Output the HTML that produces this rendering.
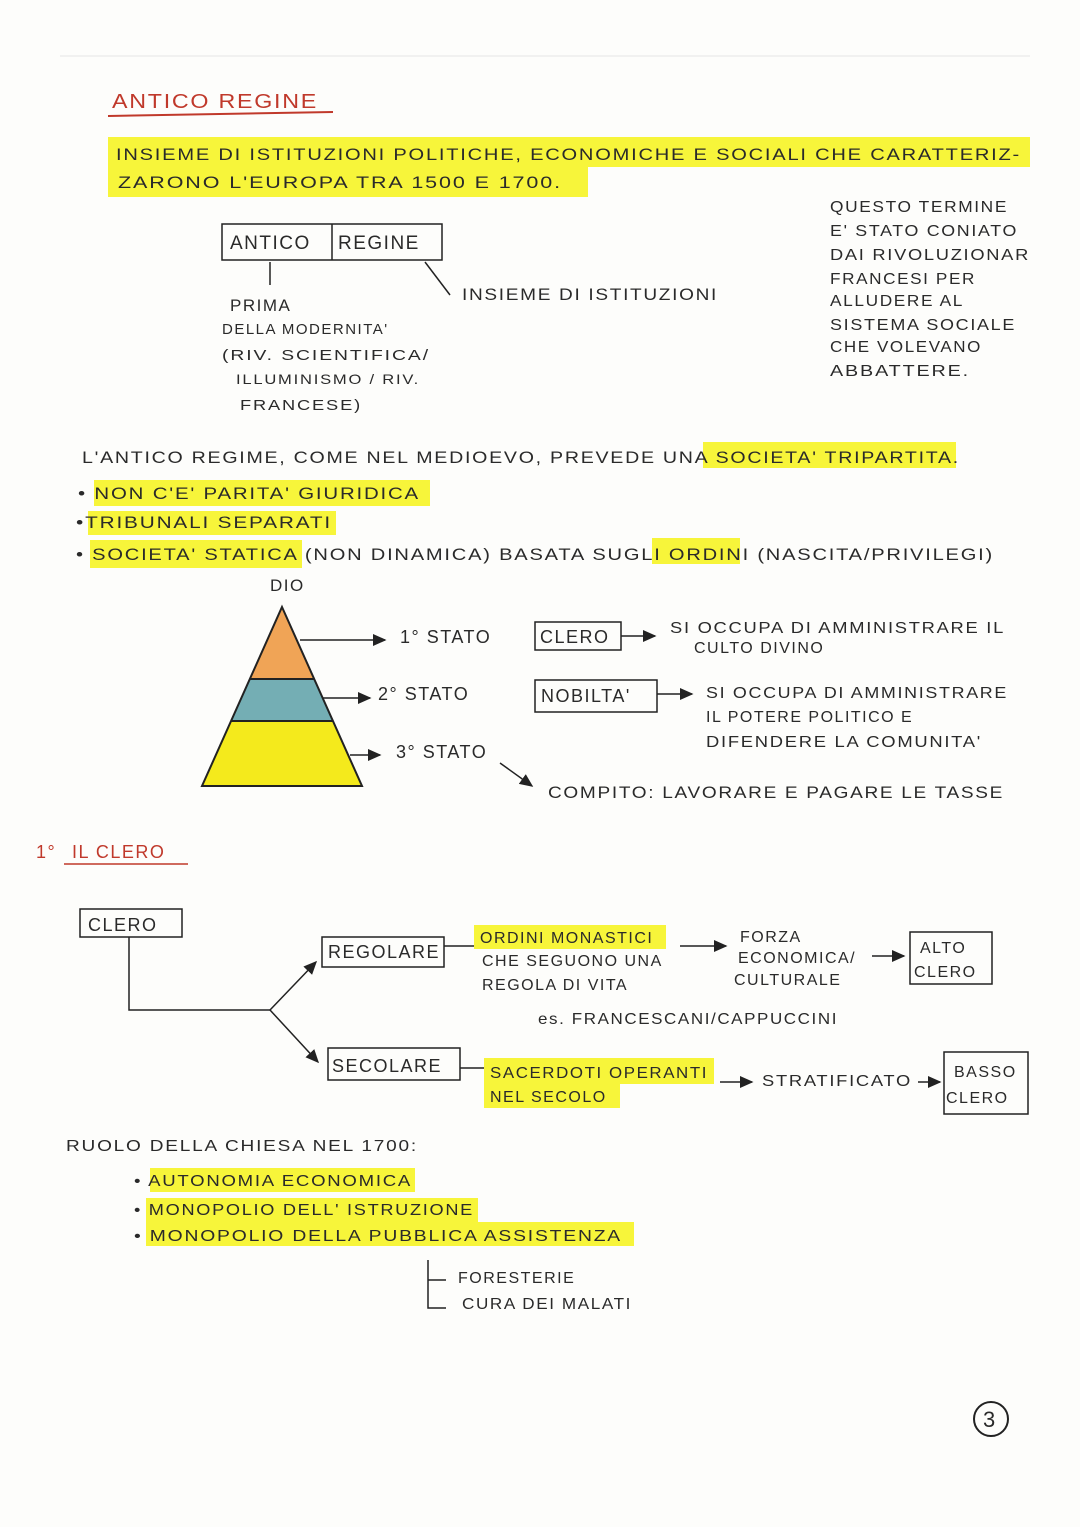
<!DOCTYPE html>
<html><head><meta charset="utf-8"><style>
html,body{margin:0;padding:0;background:#fdfdfb}
svg{display:block}
text{font-family:"Liberation Sans",sans-serif;font-size:17px;fill:#2a2a2a;letter-spacing:1.5px}
.r{fill:#c0392b}
.hl{fill:#f7f53a}
</style></head><body>
<svg width="1080" height="1527" viewBox="0 0 1080 1527" xmlns="http://www.w3.org/2000/svg">
<defs><marker id="a" markerWidth="10" markerHeight="10" refX="8" refY="4" orient="auto"><path d="M0,0 L9,4 L0,8z" fill="#222"/></marker></defs>
<line x1="60" y1="56" x2="1030" y2="56" stroke="#e5e5e5"/>
<text x="112" y="108" class="r" style="font-size:20px" textLength="206" lengthAdjust="spacingAndGlyphs">ANTICO REGINE</text>
<line x1="108" y1="116" x2="333" y2="112" stroke="#c0392b" stroke-width="2"/>
<rect class="hl" x="108" y="137" width="922" height="30"/>
<rect class="hl" x="108" y="167" width="480" height="30"/>
<text x="116" y="160" textLength="905" lengthAdjust="spacingAndGlyphs">INSIEME DI ISTITUZIONI POLITICHE, ECONOMICHE E SOCIALI CHE CARATTERIZ-</text>
<text x="118" y="188" textLength="444" lengthAdjust="spacingAndGlyphs">ZARONO L'EUROPA TRA 1500 E 1700.</text>
<rect x="222" y="224" width="220" height="36" fill="none" stroke="#222" stroke-width="1.5"/>
<line x1="332" y1="224" x2="332" y2="260" stroke="#222" stroke-width="1.5"/>
<text x="230" y="249" style="font-size:19px">ANTICO</text>
<text x="338" y="249" style="font-size:19px">REGINE</text>
<line x1="270" y1="262" x2="270" y2="285" stroke="#222" stroke-width="1.5"/>
<line x1="425" y1="262" x2="450" y2="295" stroke="#222" stroke-width="1.5"/>
<text x="462" y="300" textLength="256" lengthAdjust="spacingAndGlyphs">INSIEME DI ISTITUZIONI</text>
<text x="230" y="311">PRIMA</text>
<text x="222" y="334" style="font-size:15px">DELLA MODERNITA'</text>
<text x="222" y="360" style="font-size:15px" textLength="208" lengthAdjust="spacingAndGlyphs">(RIV. SCIENTIFICA/</text>
<text x="236" y="384" style="font-size:14px" textLength="184" lengthAdjust="spacingAndGlyphs">ILLUMINISMO / RIV.</text>
<text x="240" y="410" style="font-size:15px" textLength="122" lengthAdjust="spacingAndGlyphs">FRANCESE)</text>
<text x="830" y="212" style="font-size:16px" textLength="178" lengthAdjust="spacingAndGlyphs">QUESTO TERMINE</text>
<text x="830" y="236" style="font-size:16px" textLength="188" lengthAdjust="spacingAndGlyphs">E' STATO CONIATO</text>
<text x="830" y="260" style="font-size:16px" textLength="200" lengthAdjust="spacingAndGlyphs">DAI RIVOLUZIONAR</text>
<text x="830" y="284" style="font-size:16px" textLength="146" lengthAdjust="spacingAndGlyphs">FRANCESI PER</text>
<text x="830" y="306" style="font-size:16px" textLength="134" lengthAdjust="spacingAndGlyphs">ALLUDERE AL</text>
<text x="830" y="330" style="font-size:16px" textLength="186" lengthAdjust="spacingAndGlyphs">SISTEMA SOCIALE</text>
<text x="830" y="352" style="font-size:16px" textLength="152" lengthAdjust="spacingAndGlyphs">CHE VOLEVANO</text>
<text x="830" y="376" style="font-size:16px" textLength="140" lengthAdjust="spacingAndGlyphs">ABBATTERE.</text>
<rect class="hl" x="703" y="442" width="253" height="26"/>
<text x="82" y="463" textLength="878" lengthAdjust="spacingAndGlyphs">L'ANTICO REGIME, COME NEL MEDIOEVO, PREVEDE UNA SOCIETA' TRIPARTITA.</text>
<rect class="hl" x="94" y="480" width="336" height="26"/>
<text x="78" y="499" textLength="342" lengthAdjust="spacingAndGlyphs">• NON C'E' PARITA' GIURIDICA</text>
<rect class="hl" x="88" y="511" width="248" height="24"/>
<text x="76" y="528" textLength="256" lengthAdjust="spacingAndGlyphs">•TRIBUNALI SEPARATI</text>
<rect class="hl" x="90" y="540" width="212" height="28"/>
<rect class="hl" x="652" y="538" width="88" height="26"/>
<text x="76" y="560" textLength="918" lengthAdjust="spacingAndGlyphs">• SOCIETA' STATICA (NON DINAMICA) BASATA SUGLI ORDINI (NASCITA/PRIVILEGI)</text>
<text x="270" y="591">DIO</text>
<polygon points="282,607 314,679 250,679" fill="#f0a456"/>
<polygon points="250,679 314,679 333,721 231,721" fill="#74aeb4"/>
<polygon points="231,721 333,721 362,786 202,786" fill="#f4ea1c"/>
<polygon points="282,607 362,786 202,786" fill="none" stroke="#222" stroke-width="2"/>
<line x1="250" y1="679" x2="314" y2="679" stroke="#222" stroke-width="2"/>
<line x1="231" y1="721" x2="333" y2="721" stroke="#222" stroke-width="2"/>
<line x1="300" y1="640" x2="385" y2="640" stroke="#222" stroke-width="1.5" marker-end="url(#a)"/>
<line x1="322" y1="698" x2="370" y2="698" stroke="#222" stroke-width="1.5" marker-end="url(#a)"/>
<line x1="350" y1="755" x2="380" y2="755" stroke="#222" stroke-width="1.5" marker-end="url(#a)"/>
<text x="400" y="643" style="font-size:18px">1° STATO</text>
<text x="378" y="700" style="font-size:18px">2° STATO</text>
<text x="396" y="758" style="font-size:18px">3° STATO</text>
<line x1="500" y1="763" x2="532" y2="786" stroke="#222" stroke-width="1.5" marker-end="url(#a)"/>
<rect x="535" y="622" width="86" height="28" fill="none" stroke="#222" stroke-width="1.5"/>
<text x="540" y="643" style="font-size:18px">CLERO</text>
<line x1="621" y1="636" x2="655" y2="636" stroke="#222" stroke-width="1.5" marker-end="url(#a)"/>
<text x="670" y="633" style="font-size:16px" textLength="335" lengthAdjust="spacingAndGlyphs">SI OCCUPA DI AMMINISTRARE IL</text>
<text x="694" y="653" style="font-size:16px">CULTO DIVINO</text>
<rect x="535" y="680" width="122" height="32" fill="none" stroke="#222" stroke-width="1.5"/>
<text x="541" y="702" style="font-size:18px">NOBILTA'</text>
<line x1="657" y1="694" x2="692" y2="694" stroke="#222" stroke-width="1.5" marker-end="url(#a)"/>
<text x="706" y="698" style="font-size:16px" textLength="302" lengthAdjust="spacingAndGlyphs">SI OCCUPA DI AMMINISTRARE</text>
<text x="706" y="722" style="font-size:16px">IL POTERE POLITICO E</text>
<text x="706" y="747" style="font-size:16px" textLength="276" lengthAdjust="spacingAndGlyphs">DIFENDERE LA COMUNITA'</text>
<text x="548" y="798" style="font-size:17px" textLength="456" lengthAdjust="spacingAndGlyphs">COMPITO: LAVORARE E PAGARE LE TASSE</text>
<text x="36" y="858" class="r" style="font-size:18px">1°</text>
<text x="72" y="858" class="r" style="font-size:18px">IL CLERO</text>
<line x1="64" y1="864" x2="188" y2="864" stroke="#c0392b" stroke-width="1.5"/>
<rect x="80" y="909" width="102" height="28" fill="none" stroke="#222" stroke-width="1.5"/>
<text x="88" y="931" style="font-size:18px">CLERO</text>
<polyline points="129,937 129,1010 270,1010" fill="none" stroke="#222" stroke-width="1.5"/>
<line x1="270" y1="1010" x2="316" y2="962" stroke="#222" stroke-width="1.5" marker-end="url(#a)"/>
<line x1="270" y1="1010" x2="318" y2="1062" stroke="#222" stroke-width="1.5" marker-end="url(#a)"/>
<rect x="322" y="937" width="122" height="30" fill="none" stroke="#222" stroke-width="1.5"/>
<text x="328" y="958" style="font-size:18px">REGOLARE</text>
<line x1="444" y1="946" x2="474" y2="946" stroke="#222" stroke-width="1.5"/>
<rect class="hl" x="474" y="925" width="192" height="24"/>
<text x="480" y="943" style="font-size:16px">ORDINI MONASTICI</text>
<text x="482" y="966" style="font-size:16px">CHE SEGUONO UNA</text>
<text x="482" y="990" style="font-size:16px">REGOLA DI VITA</text>
<line x1="680" y1="946" x2="726" y2="946" stroke="#222" stroke-width="1.5" marker-end="url(#a)"/>
<text x="740" y="942" style="font-size:16px">FORZA</text>
<text x="738" y="963" style="font-size:16px">ECONOMICA/</text>
<text x="734" y="985" style="font-size:16px">CULTURALE</text>
<line x1="872" y1="956" x2="904" y2="956" stroke="#222" stroke-width="1.5" marker-end="url(#a)"/>
<rect x="910" y="932" width="82" height="52" fill="none" stroke="#222" stroke-width="1.5"/>
<text x="920" y="953" style="font-size:16px">ALTO</text>
<text x="914" y="977" style="font-size:16px">CLERO</text>
<text x="538" y="1024" style="font-size:16px" textLength="300" lengthAdjust="spacingAndGlyphs">es. FRANCESCANI/CAPPUCCINI</text>
<rect x="328" y="1048" width="132" height="32" fill="none" stroke="#222" stroke-width="1.5"/>
<text x="332" y="1072" style="font-size:18px">SECOLARE</text>
<line x1="460" y1="1068" x2="486" y2="1068" stroke="#222" stroke-width="1.5"/>
<rect class="hl" x="484" y="1058" width="230" height="26"/>
<rect class="hl" x="484" y="1084" width="136" height="24"/>
<text x="490" y="1078" style="font-size:16px" textLength="218" lengthAdjust="spacingAndGlyphs">SACERDOTI OPERANTI</text>
<text x="490" y="1102" style="font-size:16px">NEL SECOLO</text>
<line x1="720" y1="1082" x2="752" y2="1082" stroke="#222" stroke-width="1.5" marker-end="url(#a)"/>
<text x="762" y="1086" style="font-size:16px" textLength="150" lengthAdjust="spacingAndGlyphs">STRATIFICATO</text>
<line x1="918" y1="1082" x2="940" y2="1082" stroke="#222" stroke-width="1.5" marker-end="url(#a)"/>
<rect x="944" y="1052" width="84" height="62" fill="none" stroke="#222" stroke-width="1.5"/>
<text x="954" y="1077" style="font-size:16px">BASSO</text>
<text x="946" y="1103" style="font-size:16px">CLERO</text>
<text x="66" y="1151" style="font-size:16px" textLength="352" lengthAdjust="spacingAndGlyphs">RUOLO DELLA CHIESA NEL 1700:</text>
<rect class="hl" x="150" y="1168" width="265" height="24"/>
<rect class="hl" x="146" y="1198" width="332" height="24"/>
<rect class="hl" x="146" y="1222" width="488" height="24"/>
<text x="134" y="1186" style="font-size:16px" textLength="278" lengthAdjust="spacingAndGlyphs">• AUTONOMIA ECONOMICA</text>
<text x="134" y="1215" style="font-size:16px" textLength="340" lengthAdjust="spacingAndGlyphs">• MONOPOLIO DELL' ISTRUZIONE</text>
<text x="134" y="1241" style="font-size:16px" textLength="488" lengthAdjust="spacingAndGlyphs">• MONOPOLIO DELLA PUBBLICA ASSISTENZA</text>
<polyline points="428,1260 428,1308 446,1308" fill="none" stroke="#222" stroke-width="1.5"/>
<line x1="428" y1="1280" x2="446" y2="1280" stroke="#222" stroke-width="1.5"/>
<text x="458" y="1283" style="font-size:16px">FORESTERIE</text>
<text x="462" y="1309" style="font-size:16px" textLength="170" lengthAdjust="spacingAndGlyphs">CURA DEI MALATI</text>
<circle cx="991" cy="1419" r="17" fill="none" stroke="#222" stroke-width="2"/>
<text x="983" y="1427" style="font-size:22px;letter-spacing:0">3</text>
</svg>
</body></html>
